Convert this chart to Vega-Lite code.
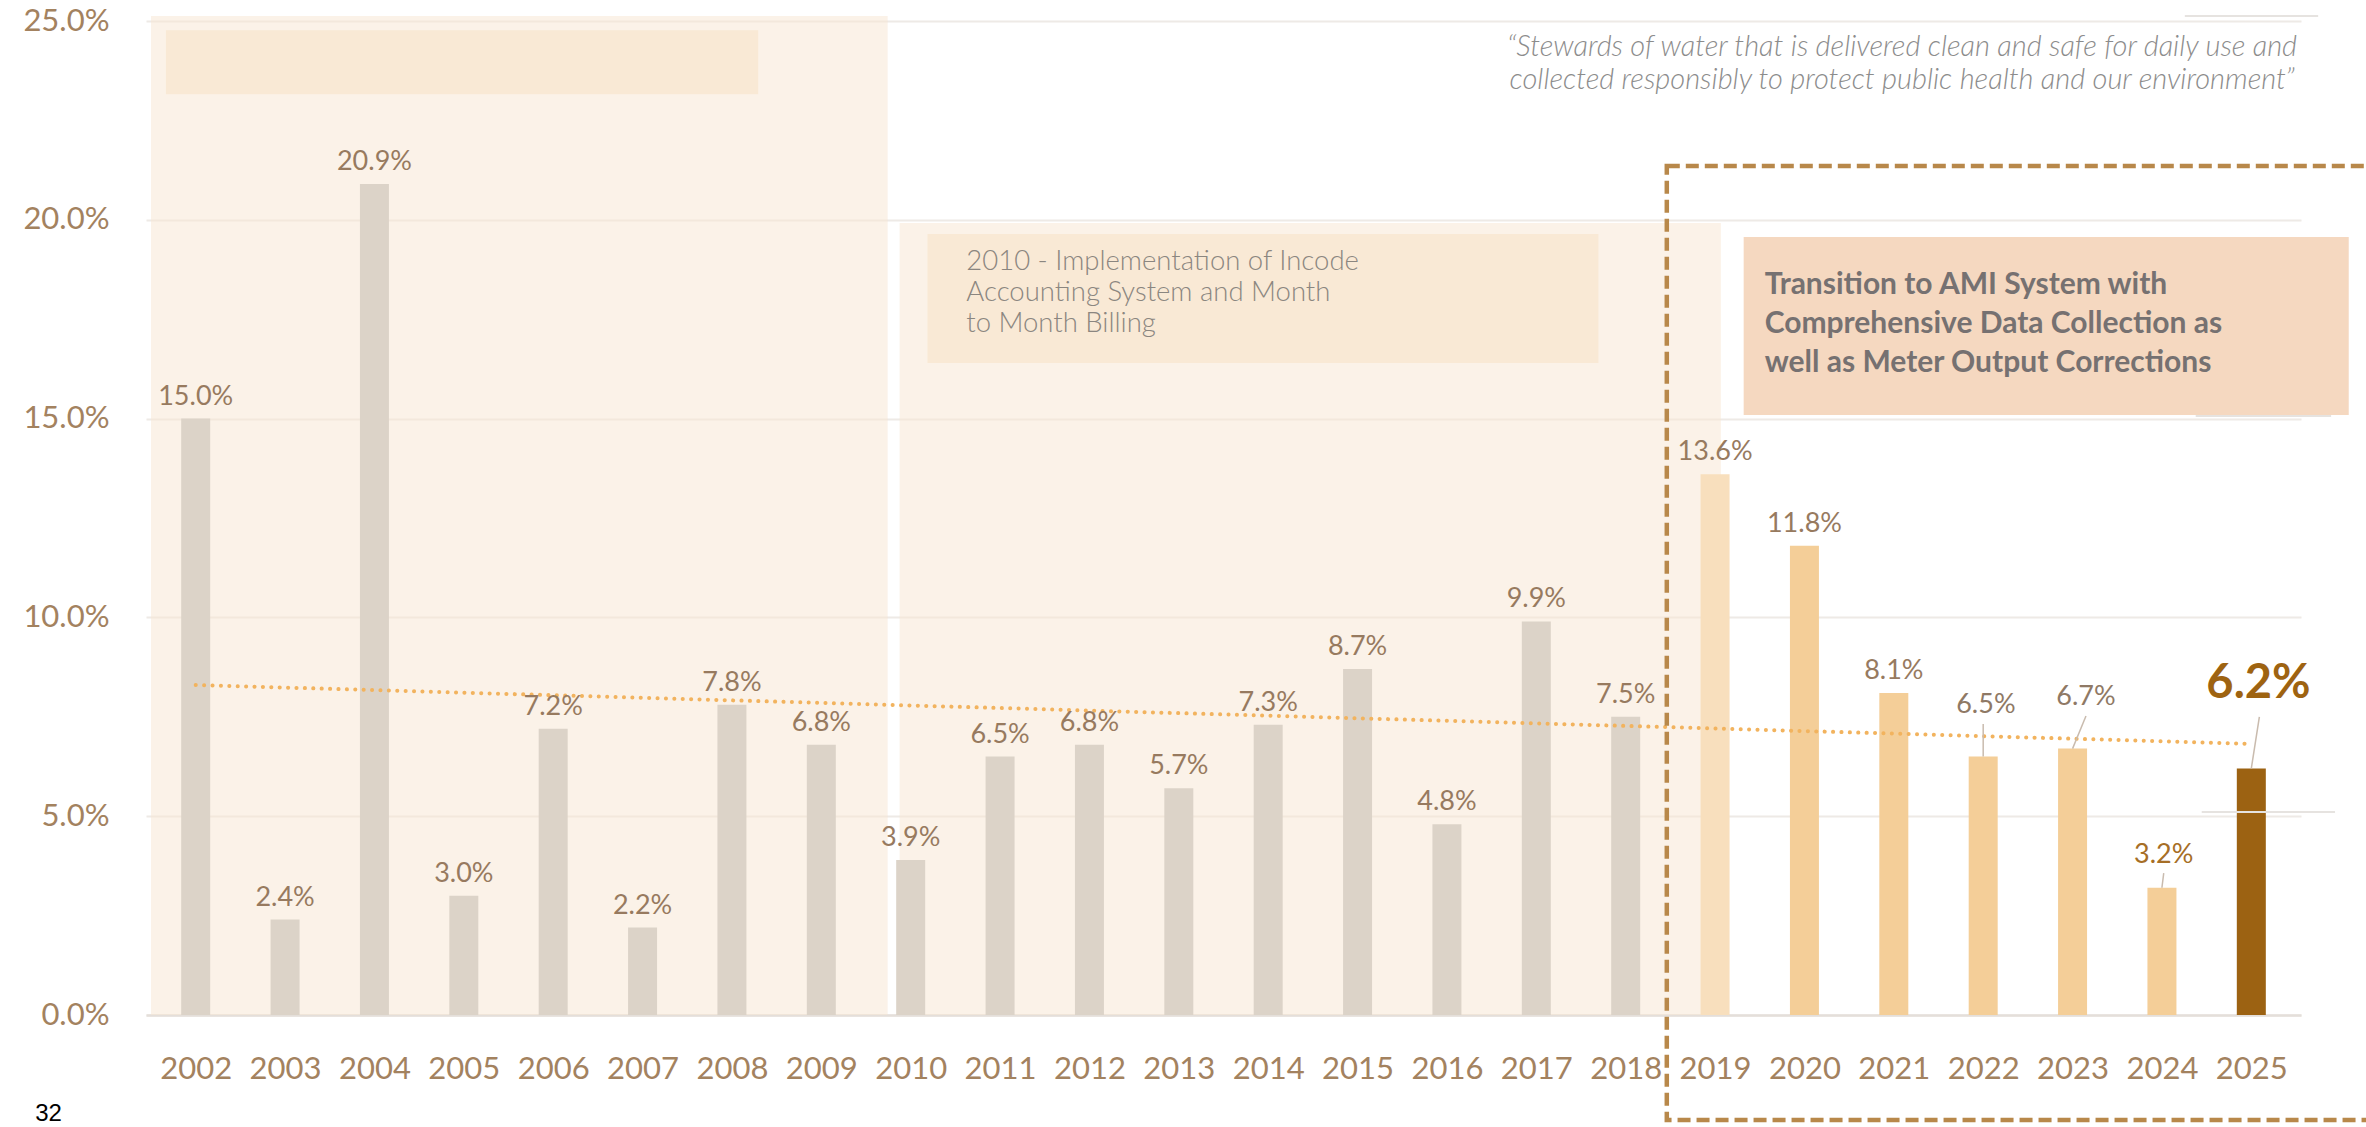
{
  "$schema": "https://vega.github.io/schema/vega-lite/v6.json",
  "autosize": {"type": "none"},
  "width": 2155,
  "height": 994,
  "padding": {"left": 146, "top": 21, "right": 65, "bottom": 112},
  "background": "white",
  "config": {
    "view": {"stroke": null},
    "font": "Lato"
  },
  "datasets": {
    "loss": [
      {"year": 2002, "value": 0.150},
      {"year": 2003, "value": 0.024},
      {"year": 2004, "value": 0.209},
      {"year": 2005, "value": 0.030},
      {"year": 2006, "value": 0.072},
      {"year": 2007, "value": 0.022},
      {"year": 2008, "value": 0.078},
      {"year": 2009, "value": 0.068},
      {"year": 2010, "value": 0.039},
      {"year": 2011, "value": 0.065},
      {"year": 2012, "value": 0.068},
      {"year": 2013, "value": 0.057},
      {"year": 2014, "value": 0.073},
      {"year": 2015, "value": 0.087},
      {"year": 2016, "value": 0.048},
      {"year": 2017, "value": 0.099},
      {"year": 2018, "value": 0.075},
      {"year": 2019, "value": 0.136},
      {"year": 2020, "value": 0.118},
      {"year": 2021, "value": 0.081},
      {"year": 2022, "value": 0.065},
      {"year": 2023, "value": 0.067},
      {"year": 2024, "value": 0.032},
      {"year": 2025, "value": 0.062}
    ],
    "callouts": [
      {"year": 2022, "value": 0.065, "label_x": 2022.03, "label_y": 0.0780, "lead_x": 2022.0, "lead_y": 0.0732},
      {"year": 2023, "value": 0.067, "label_x": 2023.15, "label_y": 0.0800, "lead_x": 2023.15, "lead_y": 0.0752},
      {"year": 2024, "value": 0.032, "label_x": 2024.02, "label_y": 0.0402, "lead_x": 2024.02, "lead_y": 0.0357},
      {"year": 2025, "value": 0.062, "label_x": 2025.08, "label_y": 0.0832, "lead_x": 2025.09, "lead_y": 0.0750}
    ],
    "trend": [
      {"year": 2002, "trend": 0.0830},
      {"year": 2025, "trend": 0.0682}
    ],
    "panels": [
      {"panel": "era1", "x0": 2001.5, "x1": 2009.742, "y0": 0, "y1": 0.25126},
      {"panel": "era2", "x0": 2009.876, "x1": 2019.065, "y0": 0, "y1": 0.1992}
    ],
    "boxes": [
      {"box": "note1", "x0": 2001.667, "x1": 2008.294, "y0": 0.2316, "y1": 0.2477},
      {"box": "note2", "x0": 2010.188, "x1": 2017.695, "y0": 0.1640, "y1": 0.1964}
    ],
    "ami": [
      {"x0": 2019.32, "x1": 2026.09, "y0": 0.1509, "y1": 0.1957}
    ],
    "frame": [
      {"x0": 2018.46, "x1": 2027.5, "y0": -0.0264, "y1": 0.2135}
    ],
    "stubs": [
      {"x0": 2024.256, "x1": 2025.748, "y": 0.25126},
      {"x0": 2024.378, "x1": 2025.893, "y": 0.15066},
      {"x0": 2024.445, "x1": 2025.937, "y": 0.05106}
    ]
  },
  "layer": [
    {
      "data": {"name": "panels"},
      "mark": {"type": "rect", "fill": "#F7E5D1", "opacity": 0.5},
      "encoding": {
        "x": {"field": "x0", "type": "quantitative", "title": null, "scale": {"domain": [2001.5, 2025.5], "nice": false, "zero": false}},
        "x2": {"field": "x1"},
        "y": {"field": "y0", "type": "quantitative", "title": null, "scale": {"domain": [0, 0.25], "nice": false}},
        "y2": {"field": "y1"}
      }
    },
    {
      "data": {"name": "boxes"},
      "mark": {"type": "rect", "fill": "#F9E9D5"},
      "encoding": {
        "x": {"field": "x0", "type": "quantitative", "title": null, "scale": {"domain": [2001.5, 2025.5], "nice": false, "zero": false}},
        "x2": {"field": "x1"},
        "y": {"field": "y0", "type": "quantitative", "title": null, "scale": {"domain": [0, 0.25], "nice": false}},
        "y2": {"field": "y1"}
      }
    },
    {
      "data": {"name": "loss"},
      "mark": {"type": "bar", "width": 29},
      "encoding": {
        "x": {
          "field": "year", "type": "quantitative", "title": null,
          "scale": {"domain": [2001.5, 2025.5], "nice": false, "zero": false},
          "axis": {
            "values": [2002, 2003, 2004, 2005, 2006, 2007, 2008, 2009, 2010, 2011, 2012, 2013, 2014, 2015, 2016, 2017, 2018, 2019, 2020, 2021, 2022, 2023, 2024, 2025],
            "format": "d", "grid": false, "ticks": false,
            "domainColor": "#E4DFDA", "domainWidth": 2.5,
            "labelFont": "Lato", "labelFontSize": 31, "labelColor": "#A3825F",
            "labelPadding": 39, "labelOverlap": false, "labelFlush": false
          }
        },
        "y": {
          "field": "value", "type": "quantitative", "title": null,
          "scale": {"domain": [0, 0.25], "nice": false},
          "axis": {
            "values": [0, 0.05, 0.1, 0.15, 0.2, 0.25],
            "format": ".1%", "domain": false, "ticks": false,
            "grid": true, "gridColor": "#EEEAE6", "gridWidth": 2,
            "labelFont": "Lato", "labelFontSize": 31, "labelColor": "#A3825F",
            "labelPadding": 37
          }
        },
        "color": {
          "condition": [
            {"test": "datum.year == 2025", "value": "#9C6212"},
            {"test": "datum.year >= 2020", "value": "#F4CE98"},
            {"test": "datum.year == 2019", "value": "#F8DFBD"}
          ],
          "value": "#DCD3C8"
        }
      }
    },
    {
      "data": {"name": "trend"},
      "mark": {"type": "line", "stroke": "#F2B35E", "strokeWidth": 4, "strokeDash": [0.1, 8.3], "strokeCap": "round"},
      "encoding": {
        "x": {"field": "year", "type": "quantitative", "title": null, "scale": {"domain": [2001.5, 2025.5], "nice": false, "zero": false}},
        "y": {"field": "trend", "type": "quantitative", "title": null, "scale": {"domain": [0, 0.25], "nice": false}}
      }
    },
    {
      "data": {"name": "loss"},
      "transform": [{"filter": "datum.year < 2022"}],
      "mark": {"type": "text", "fontSize": 27, "color": "#977A5F", "baseline": "alphabetic", "dy": -14},
      "encoding": {
        "x": {"field": "year", "type": "quantitative", "title": null, "scale": {"domain": [2001.5, 2025.5], "nice": false, "zero": false}},
        "y": {"field": "value", "type": "quantitative", "title": null, "scale": {"domain": [0, 0.25], "nice": false}},
        "text": {"field": "value", "type": "quantitative", "format": ".1%"}
      }
    },
    {
      "data": {"name": "callouts"},
      "mark": {"type": "rule", "stroke": "#C9BBAE", "strokeWidth": 1.5},
      "encoding": {
        "x": {"field": "lead_x", "type": "quantitative", "title": null, "scale": {"domain": [2001.5, 2025.5], "nice": false, "zero": false}},
        "x2": {"field": "year"},
        "y": {"field": "lead_y", "type": "quantitative", "title": null, "scale": {"domain": [0, 0.25], "nice": false}},
        "y2": {"field": "value"}
      }
    },
    {
      "data": {"name": "callouts"},
      "transform": [{"filter": "datum.year < 2025"}],
      "mark": {"type": "text", "fontSize": 27, "baseline": "middle"},
      "encoding": {
        "x": {"field": "label_x", "type": "quantitative", "title": null, "scale": {"domain": [2001.5, 2025.5], "nice": false, "zero": false}},
        "y": {"field": "label_y", "type": "quantitative", "title": null, "scale": {"domain": [0, 0.25], "nice": false}},
        "text": {"field": "value", "type": "quantitative", "format": ".1%"},
        "color": {"condition": {"test": "datum.year == 2024", "value": "#A66E26"}, "value": "#8F7965"}
      }
    },
    {
      "data": {"name": "callouts"},
      "transform": [{"filter": "datum.year == 2025"}],
      "mark": {"type": "text", "fontSize": 47, "fontWeight": "bold", "baseline": "middle", "color": "#9E6311"},
      "encoding": {
        "x": {"field": "label_x", "type": "quantitative", "title": null, "scale": {"domain": [2001.5, 2025.5], "nice": false, "zero": false}},
        "y": {"field": "label_y", "type": "quantitative", "title": null, "scale": {"domain": [0, 0.25], "nice": false}},
        "text": {"field": "value", "type": "quantitative", "format": ".1%"}
      }
    },
    {
      "data": {"name": "ami"},
      "mark": {"type": "rect", "fill": "#F5D8C0"},
      "encoding": {
        "x": {"field": "x0", "type": "quantitative", "title": null, "scale": {"domain": [2001.5, 2025.5], "nice": false, "zero": false}},
        "x2": {"field": "x1"},
        "y": {"field": "y0", "type": "quantitative", "title": null, "scale": {"domain": [0, 0.25], "nice": false}},
        "y2": {"field": "y1"}
      }
    },
    {
      "data": {"name": "frame"},
      "mark": {"type": "rect", "fillOpacity": 0, "stroke": "#B8884A", "strokeWidth": 4.5, "strokeDash": [13, 6]},
      "encoding": {
        "x": {"field": "x0", "type": "quantitative", "title": null, "scale": {"domain": [2001.5, 2025.5], "nice": false, "zero": false}},
        "x2": {"field": "x1"},
        "y": {"field": "y0", "type": "quantitative", "title": null, "scale": {"domain": [0, 0.25], "nice": false}},
        "y2": {"field": "y1"}
      }
    },
    {
      "data": {"name": "stubs"},
      "mark": {"type": "rule", "stroke": "#E6E3E0", "strokeWidth": 2},
      "encoding": {
        "x": {"field": "x0", "type": "quantitative", "title": null, "scale": {"domain": [2001.5, 2025.5], "nice": false, "zero": false}},
        "x2": {"field": "x1"},
        "y": {"field": "y", "type": "quantitative", "title": null, "scale": {"domain": [0, 0.25], "nice": false}}
      }
    },
    {
      "data": {"values": [{}]},
      "mark": {"type": "text", "align": "left", "baseline": "middle", "fontSize": 27.5, "fontWeight": 300, "color": "#8B8680", "lineHeight": 31,
        "text": ["2010 - Implementation of Incode", "Accounting System and Month", "to Month Billing"]},
      "encoding": {
        "x": {"datum": 2010.622, "type": "quantitative", "title": null, "scale": {"domain": [2001.5, 2025.5], "nice": false, "zero": false}},
        "y": {"datum": 0.18938, "type": "quantitative", "title": null, "scale": {"domain": [0, 0.25], "nice": false}}
      }
    },
    {
      "data": {"values": [{}]},
      "mark": {"type": "text", "align": "left", "baseline": "middle", "fontSize": 30, "fontWeight": "bold", "color": "#767171", "lineHeight": 39,
        "text": ["Transition to AMI System with", "Comprehensive Data Collection as", "well as Meter Output Corrections"]},
      "encoding": {
        "x": {"datum": 2019.555, "type": "quantitative", "title": null, "scale": {"domain": [2001.5, 2025.5], "nice": false, "zero": false}},
        "y": {"datum": 0.1836, "type": "quantitative", "title": null, "scale": {"domain": [0, 0.25], "nice": false}}
      }
    },
    {
      "data": {"values": [{}]},
      "mark": {"type": "text", "align": "center", "baseline": "middle", "fontSize": 29, "fontWeight": 300, "fontStyle": "italic", "color": "#8C8C8C", "lineHeight": 33,
        "text": ["“Stewards of water that is delivered clean and safe for daily use and", "collected responsibly to protect public health and our environment”"]},
      "encoding": {
        "x": {"datum": 2021.092, "type": "quantitative", "title": null, "scale": {"domain": [2001.5, 2025.5], "nice": false, "zero": false}},
        "y": {"datum": 0.24346, "type": "quantitative", "title": null, "scale": {"domain": [0, 0.25], "nice": false}}
      }
    },
    {
      "data": {"values": [{}]},
      "mark": {"type": "text", "align": "center", "baseline": "middle", "fontSize": 24, "font": "Liberation Sans", "color": "#000000", "text": "32"},
      "encoding": {
        "x": {"datum": 2000.353, "type": "quantitative", "title": null, "scale": {"domain": [2001.5, 2025.5], "nice": false, "zero": false}},
        "y": {"datum": -0.0249, "type": "quantitative", "title": null, "scale": {"domain": [0, 0.25], "nice": false}}
      }
    }
  ]
}
